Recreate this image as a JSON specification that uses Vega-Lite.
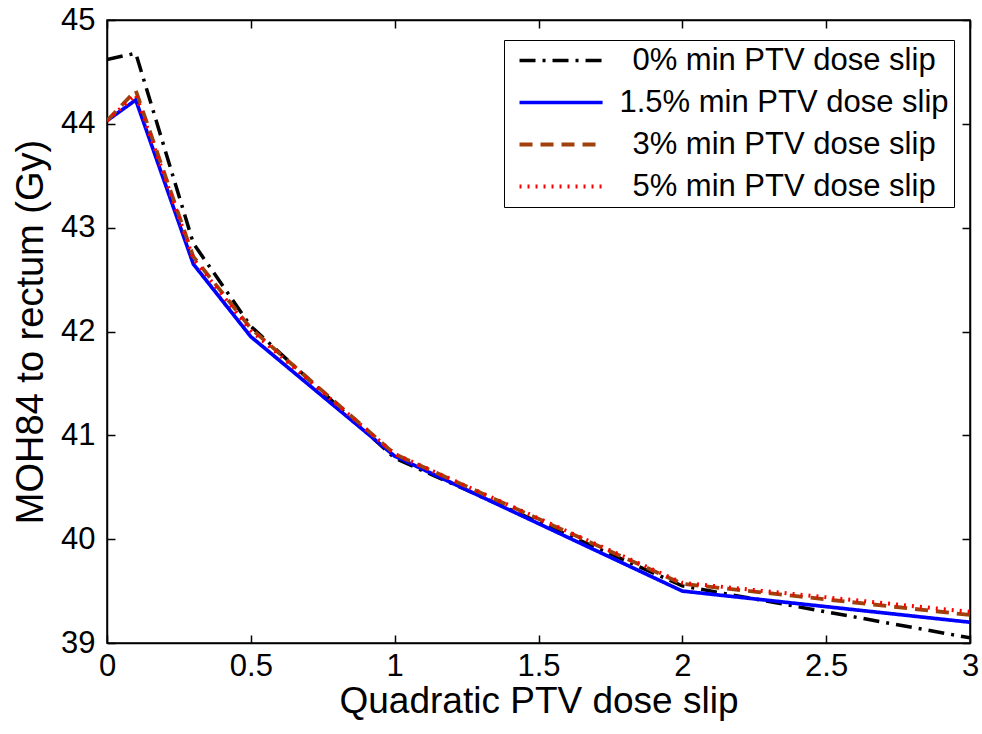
{
  "$schema": "https://vega.github.io/schema/vega-lite/v6.json",
  "width": 863,
  "height": 623,
  "autosize": {"type": "none"},
  "padding": {"left": 107, "top": 20, "right": 12, "bottom": 91},
  "background": "white",
  "config": {
    "view": {"stroke": "black", "strokeWidth": 1.5},
    "font": "Liberation Sans",
    "axis": {"grid": false, "domainColor": "black", "tickColor": "black", "labelColor": "black", "titleColor": "black", "labelFont": "Liberation Sans", "labelFontSize": 31, "titleFont": "Liberation Sans", "titleFontWeight": "normal", "tickSize": -8, "domainWidth": 1.5, "tickWidth": 1.5}
  },
  "data": {"values": [
    {"x": 0, "y": 44.62, "s": "0% min PTV dose slip"},
    {"x": 0.1, "y": 44.68, "s": "0% min PTV dose slip"},
    {"x": 0.3, "y": 42.85, "s": "0% min PTV dose slip"},
    {"x": 0.5, "y": 42.05, "s": "0% min PTV dose slip"},
    {"x": 1, "y": 40.78, "s": "0% min PTV dose slip"},
    {"x": 2, "y": 39.55, "s": "0% min PTV dose slip"},
    {"x": 3, "y": 39.05, "s": "0% min PTV dose slip"},
    {"x": 0, "y": 44.03, "s": "1.5% min PTV dose slip"},
    {"x": 0.1, "y": 44.23, "s": "1.5% min PTV dose slip"},
    {"x": 0.3, "y": 42.65, "s": "1.5% min PTV dose slip"},
    {"x": 0.5, "y": 41.95, "s": "1.5% min PTV dose slip"},
    {"x": 1, "y": 40.8, "s": "1.5% min PTV dose slip"},
    {"x": 2, "y": 39.5, "s": "1.5% min PTV dose slip"},
    {"x": 3, "y": 39.2, "s": "1.5% min PTV dose slip"},
    {"x": 0, "y": 44.03, "s": "3% min PTV dose slip"},
    {"x": 0.1, "y": 44.32, "s": "3% min PTV dose slip"},
    {"x": 0.3, "y": 42.72, "s": "3% min PTV dose slip"},
    {"x": 0.5, "y": 42.03, "s": "3% min PTV dose slip"},
    {"x": 1, "y": 40.82, "s": "3% min PTV dose slip"},
    {"x": 2, "y": 39.57, "s": "3% min PTV dose slip"},
    {"x": 3, "y": 39.27, "s": "3% min PTV dose slip"},
    {"x": 0, "y": 44.03, "s": "5% min PTV dose slip"},
    {"x": 0.1, "y": 44.28, "s": "5% min PTV dose slip"},
    {"x": 0.3, "y": 42.7, "s": "5% min PTV dose slip"},
    {"x": 0.5, "y": 42.01, "s": "5% min PTV dose slip"},
    {"x": 1, "y": 40.82, "s": "5% min PTV dose slip"},
    {"x": 2, "y": 39.58, "s": "5% min PTV dose slip"},
    {"x": 3, "y": 39.3, "s": "5% min PTV dose slip"}
  ]},
  "layer": [
    {
      "mark": {"type": "line", "clip": true},
      "encoding": {
        "x": {"field": "x", "type": "quantitative", "scale": {"domain": [0, 3], "nice": false, "zero": false},
          "axis": {"orient": "bottom", "values": [0, 0.5, 1, 1.5, 2, 2.5, 3], "format": "~g", "title": "Quadratic PTV dose slip", "titleFontSize": 37, "titlePadding": 2, "labelPadding": 16, "labelFlush": false}},
        "y": {"field": "y", "type": "quantitative", "scale": {"domain": [39, 45], "nice": false, "zero": false},
          "axis": {"orient": "left", "values": [39, 40, 41, 42, 43, 44, 45], "title": "MOH84 to rectum (Gy)", "titleFontSize": 38, "titlePadding": 10, "labelPadding": 20}},
        "color": {"field": "s", "type": "nominal", "title": null,
          "scale": {"domain": ["0% min PTV dose slip", "1.5% min PTV dose slip", "3% min PTV dose slip", "5% min PTV dose slip"], "range": ["#000000", "#0000ff", "#a0410d", "#ff0000"]},
          "legend": {"orient": "none", "legendX": 397, "legendY": 20, "strokeColor": "black", "fillColor": "white", "padding": 5, "symbolType": "M-0.6,0H9.4", "symbolSize": 276, "symbolStrokeWidth": 3.5, "labelFontSize": 31, "labelFont": "Liberation Sans", "labelColor": "black", "labelAlign": "center", "labelOffset": 244, "rowPadding": 10, "labelLimit": 500}},
        "strokeDash": {"field": "s", "type": "nominal", "title": null,
          "scale": {"domain": ["0% min PTV dose slip", "1.5% min PTV dose slip", "3% min PTV dose slip", "5% min PTV dose slip"], "range": [[16, 7, 3, 7], [1, 0], [13, 8], [2, 6]]}},
        "strokeWidth": {"field": "s", "type": "nominal", "title": null,
          "scale": {"domain": ["0% min PTV dose slip", "1.5% min PTV dose slip", "3% min PTV dose slip", "5% min PTV dose slip"], "range": [3.5, 4, 4.5, 2.5]}}
      }
    },
    {
      "mark": {"type": "line", "opacity": 0},
      "encoding": {
        "x": {"field": "x", "type": "quantitative", "axis": {"orient": "top", "values": [0, 0.5, 1, 1.5, 2, 2.5, 3], "labels": false, "title": null}},
        "y": {"field": "y", "type": "quantitative", "axis": {"orient": "right", "values": [39, 40, 41, 42, 43, 44, 45], "labels": false, "title": null}}
      }
    }
  ],
  "resolve": {"axis": {"x": "independent", "y": "independent"}}
}
